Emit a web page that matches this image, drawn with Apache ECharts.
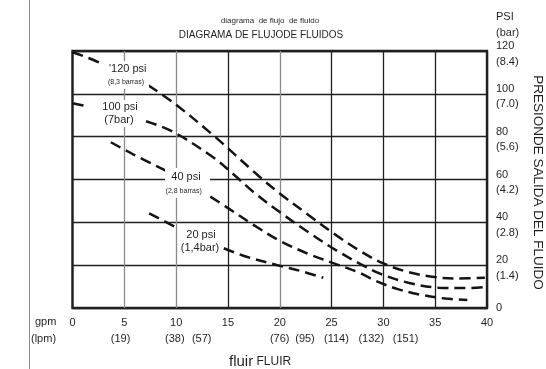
<!DOCTYPE html>
<html>
<head>
<meta charset="utf-8">
<script src="https://cdn.jsdelivr.net/npm/echarts@6/dist/echarts.min.js"></script>
<style>
  html, body { margin: 0; padding: 0; background: #fff; }
  #chart { width: 546px; height: 369px; }
</style>
</head>
<body>
<div id="chart"></div>
<script>
// Flow ticks (gpm) and their litre-per-minute equivalents
const gpmTicks = [0, 5, 10, 15, 20, 25, 30, 35, 40];
const lpmTicks = ['(19)', '(38)', '(57)', '(76)', '(95)', '(114)', '(132)', '(151)'];

// Outlet pressure ticks (psi) and bar equivalents
const psiTicks = [0, 20, 40, 60, 80, 100, 120];
const barTicks = ['', '(1.4)', '(2.8)', '(4.2)', '(5.6)', '(7.0)', '(8.4)'];

// Flow curves for each air inlet pressure: [gpm, psi]; a null breaks the line behind its label
const curve120 = [[0, 119.4], [1.5, 116.8], [2.9, 114.0], [5, null], [7.3, 104.0], [9.7, 96.0],
  [13.5, 81.0], [18.0, 61.5], [20.0, 53.5], [22.9, 43.0], [25.5, 33.8], [27.8, 26.5],
  [30.0, 20.8], [32.4, 16.8], [34.7, 14.6], [37.0, 13.8], [39.8, 14.1]];
const curve100 = [[0, 95.6], [1.6, 94.0], [4, null], [7.1, 87.2], [9.7, 82.3], [13.5, 70.6],
  [15.5, 62.6], [17.5, 54.0], [20.0, 44.8], [22.9, 34.9], [25.5, 26.8], [27.8, 20.5],
  [29.8, 15.8], [32.4, 11.8], [35.3, 9.5], [37.9, 9.3], [40.0, 9.9]];
const curve40 = [[3.7, 77.4], [5.8, 71.9], [9.0, 64.1], [11, null], [13.3, 52.0], [14.9, 47.0],
  [17.5, 38.7], [20.0, 31.4], [22.9, 25.0], [25.5, 20.4], [27.8, 16.2], [29.2, 12.8],
  [31.4, 8.8], [33.7, 6.1], [36.0, 4.4], [38.1, 3.7]];
const curve20 = [[7.4, 44.2], [8.8, 40.7], [10.2, 37.2], [12, null], [14.6, 27.9], [16.8, 23.9],
  [19.7, 20.1], [22.3, 16.9], [24.2, 14.1]];

// Curve annotations: main line and secondary (bar) line
const curveNames = ["'120 psi", '100 psi', '40 psi', '20 psi'];
const curveSubs = ['(8,3 barras)', '(7bar)', '(2,8 barras)', '(1,4bar)'];

const INK = '#231f20';
const FONT = '"Liberation Sans", Arial, sans-serif';

const chart = echarts.init(document.getElementById('chart'), null, { renderer: 'canvas' });

function curveSeries(data) {
  return {
    type: 'line',
    data: data,
    smooth: 0.35,
    showSymbol: false,
    connectNulls: false,
    silent: true,
    z: 3,
    lineStyle: { color: '#161314', width: 2.5, type: [11, 6], cap: 'butt' }
  };
}

function txt(text, x, y, size, opts) {
  return Object.assign({
    type: 'text',
    z: 20,
    style: Object.assign({
      text: text, x: x, y: y,
      font: size + 'px ' + FONT,
      fill: INK,
      align: 'center',
      verticalAlign: 'middle'
    }, (opts && opts.style) || {})
  }, (opts && opts.el) || {});
}

// Curve label boxes (white background hides the grid behind them)
const labelMain = [[127.7, 69], [120, 107.3], [186, 176.7], [201, 235]];
const labelSub = [[126, 82.3, 7], [119, 120, 11], [183.7, 191, 7], [200, 248.3, 11]];
const labelBoxes = [[105, 61, 44, 28], [100, 100, 41, 27], [165, 168, 45, 30], [179, 227, 42, 28]];

// lpm row layout (pixel centres)
const lpmX = [120.6, 174.8, 201.7, 279.7, 305, 336.4, 371.3, 405.6];

const graphics = [];
// left margin rule
graphics.push({ type: 'line', z: 1, shape: { x1: 29.5, y1: 0, x2: 29.5, y2: 369 },
  style: { stroke: '#8c8c8c', lineWidth: 1 } });
// titles
graphics.push(txt('diagrama  de flujo  de fluido', 270, 21, 8));
graphics.push(txt('DIAGRAMA DE FLUJODE FLUIDOS', 261, 35, 10));
// pressure axis header and title
graphics.push(txt('PSI', 496, 17, 11, { style: { align: 'left' } }));
graphics.push(txt('(bar)', 496, 33, 11, { style: { align: 'left' } }));
graphics.push(txt('PRESIONDE SALIDA DEL FLUIDO', 0, 0, 13.5,
  { el: { x: 537.5, y: 182.5, rotation: -Math.PI / 2 } }));
// flow axis
graphics.push(txt('gpm', 35, 322, 11, { style: { align: 'left' } }));
graphics.push(txt('(lpm)', 31, 339, 11, { style: { align: 'left' } }));
lpmTicks.forEach(function (t, i) { graphics.push(txt(t, lpmX[i], 339, 11)); });
graphics.push({ type: 'text', z: 20, style: {
  text: '{a|fluir} {b|FLUIR}', x: 229, y: 362, align: 'left', verticalAlign: 'middle',
  fill: INK,
  rich: { a: { font: '15px ' + FONT, fill: INK }, b: { font: '12px ' + FONT, fill: INK } }
} });
// curve labels
curveNames.forEach(function (n, i) {
  const b = labelBoxes[i];
  graphics.push({ type: 'rect', z: 15, shape: { x: b[0], y: b[1], width: b[2], height: b[3] },
    style: { fill: '#fff' } });
  graphics.push(txt(n, labelMain[i][0], labelMain[i][1], 11));
  graphics.push(txt(curveSubs[i], labelSub[i][0], labelSub[i][1], labelSub[i][2]));
});

const option = {
  backgroundColor: '#fff',
  animation: false,
  textStyle: { fontFamily: FONT },
  grid: { left: 72.5, right: 59, top: 51, bottom: 61, show: true,
    borderColor: INK, borderWidth: 2.4, backgroundColor: 'transparent' },
  xAxis: {
    type: 'value', min: 0, max: 40, interval: 5,
    axisLine: { show: false }, axisTick: { show: false },
    axisLabel: { margin: 9, fontSize: 11, color: INK, fontFamily: FONT,
      formatter: function (v) { return gpmTicks.indexOf(v) >= 0 ? String(v) : ''; } },
    splitLine: { show: true, lineStyle: { width: 1.3,
      color: [INK, '#8a8a8a', '#8a8a8a', INK, '#8a8a8a', INK, INK, INK, INK] } }
  },
  yAxis: {
    type: 'value', position: 'right', min: 0, max: 120, interval: 20,
    axisLine: { show: false }, axisTick: { show: false },
    axisLabel: {
      margin: 9, color: INK, fontFamily: FONT, padding: [5.6, 0, 0, 0],
      formatter: function (v) {
        const i = psiTicks.indexOf(v);
        if (i <= 0) return '{z|' + v + '}';
        return '{a|' + v + '}\n{a|' + barTicks[i] + '}';
      },
      rich: {
        a: { fontSize: 11, lineHeight: 15.5, color: INK, fontFamily: FONT },
        z: { fontSize: 11, lineHeight: 15.5, color: INK, fontFamily: FONT, padding: [0, 0, 5.6, 0] }
      }
    },
    splitLine: { show: true, lineStyle: { width: 1.3, color: INK } }
  },
  series: [curveSeries(curve120), curveSeries(curve100), curveSeries(curve40), curveSeries(curve20)],
  graphic: graphics
};

chart.setOption(option);
</script>
</body>
</html>
